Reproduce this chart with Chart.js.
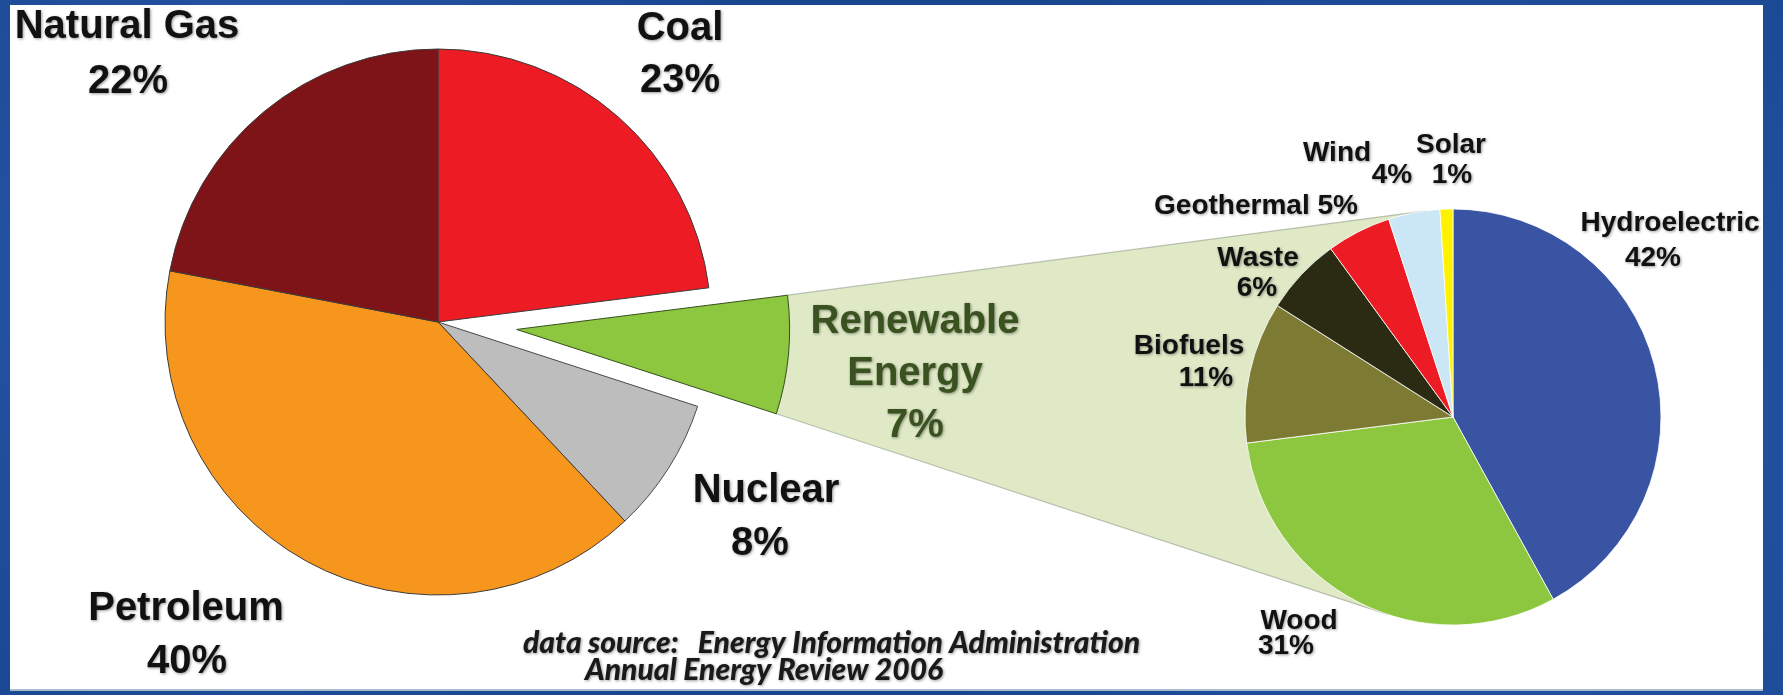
<!DOCTYPE html>
<html>
<head>
<meta charset="utf-8">
<title>Energy consumption by source</title>
<script src="https://cdn.jsdelivr.net/npm/chart.js@4.4.1/dist/chart.umd.min.js"></script>
<style>
    html, body { margin: 0; padding: 0; }
    body {
        width: 1783px;
        height: 695px;
        overflow: hidden;
        position: relative;
        background: radial-gradient(circle at 15% 40%, #2a5cae 0, rgba(42, 92, 174, 0) 35%),
                    radial-gradient(circle at 85% 60%, #2657a8 0, rgba(38, 87, 168, 0) 40%),
                    #18468f;
    }
    #panel {
        position: absolute;
        left: 10px;
        top: 5px;
        width: 1753px;
        height: 684px;
        background: #fff;
        border-bottom: 2px solid #a9bbd2;
    }
    canvas { position: absolute; left: 0; top: 0; }
</style>
</head>
<body>
<div id="panel"></div>
<canvas id="mainPie" width="1783" height="695"></canvas>
<canvas id="renewPie" width="1783" height="695"></canvas>
<script>
// main pie: share of total energy consumption (%)
var mainLabels = ['Coal', ['Renewable', 'Energy'], 'Nuclear', 'Petroleum', 'Natural Gas'];
var mainValues = [23, 7, 8, 40, 22];
var mainColors = ['#ed1c24', '#8dc63f', '#bdbdbd', '#f7961d', '#7e1318'];

// breakdown of the renewable slice (%)
var renewLabels = ['Hydroelectric', 'Wood', 'Biofuels', 'Waste', 'Geothermal', 'Wind', 'Solar'];
var renewValues = [42, 31, 11, 6, 5, 4, 1];
var renewColors = ['#3a54a4', '#8dc63f', '#7d7b33', '#2b2b13', '#ed1c24', '#cbe6f5', '#fff200'];

var sourceLines = ['data source:   Energy Information Administration', 'Annual Energy Review 2006'];

// where the text lines go (x centre, baseline) - one entry per line
var mainTextPos = [
    [[680, 40], [680, 92]],
    [[915, 333], [915, 385], [915, 437]],
    [[766, 502], [760, 555]],
    [[186, 620], [187, 673]],
    [[127, 38], [128, 93]]
];
var renewTextPos = [
    [[1670, 231], [1653, 266]],
    [[1299, 629], [1286, 654]],
    [[1189, 354], [1206, 386]],
    [[1258, 266], [1257, 296]],
    [[1256, 214]],
    [[1337, 161], [1392, 183]],
    [[1451, 153], [1452, 183]]
];

var explodeIndex = 1;      // Renewable Energy
var explodeDistance = 79;
var fanColor = '#dfe9c6';

var mainCanvas = document.getElementById('mainPie');
var renewCanvas = document.getElementById('renewPie');
var renewChart;

function drawLines(ctx, lines, pos) {
    if (pos.length === 1) {
        lines = [lines.join(' ')];
    }
    lines.forEach(function (t, j) {
        ctx.fillText(t, pos[j][0], pos[j][1]);
    });
}

function setShadow(ctx) {
    ctx.shadowColor = 'rgba(0, 0, 0, 0.4)';
    ctx.shadowBlur = 3;
    ctx.shadowOffsetX = 1;
    ctx.shadowOffsetY = 1;
}

// moves the renewable slice out of the pie
var explodePlugin = {
    id: 'explodeSlice',
    afterDatasetsUpdate: function (chart) {
        var arc = chart.getDatasetMeta(0).data[explodeIndex];
        var mid = (arc.startAngle + arc.endAngle) / 2;
        arc.x += Math.cos(mid) * explodeDistance;
        arc.y += Math.sin(mid) * explodeDistance;
    }
};

// light green band from the renewable slice to the breakdown pie
var fanPlugin = {
    id: 'zoomFan',
    beforeDatasetsDraw: function (chart) {
        var ctx = chart.ctx;
        var slice = chart.getDatasetMeta(0).data[explodeIndex];
        var target = renewChart.getDatasetMeta(0).data[0];
        var cx = target.x, cy = target.y, R = target.outerRadius;
        var r = slice.outerRadius;
        var p1 = { x: slice.x + r * Math.cos(slice.startAngle), y: slice.y + r * Math.sin(slice.startAngle) };
        var p2 = { x: slice.x + r * Math.cos(slice.endAngle), y: slice.y + r * Math.sin(slice.endAngle) };

        function tangent(p, side) {
            var dx = cx - p.x, dy = cy - p.y;
            var d = Math.hypot(dx, dy);
            var a = Math.atan2(dy, dx) + side * Math.asin(R / d);
            var len = Math.sqrt(d * d - R * R);
            return { x: p.x + len * Math.cos(a), y: p.y + len * Math.sin(a) };
        }
        var t1 = tangent(p1, -1);
        var t2 = tangent(p2, 1);

        ctx.save();
        ctx.beginPath();
        ctx.moveTo(p1.x, p1.y);
        ctx.lineTo(t1.x, t1.y);
        ctx.lineTo(cx, cy);
        ctx.lineTo(t2.x, t2.y);
        ctx.lineTo(p2.x, p2.y);
        ctx.arc(slice.x, slice.y, r, slice.endAngle, slice.startAngle, true);
        ctx.closePath();
        ctx.fillStyle = fanColor;
        ctx.fill();

        ctx.beginPath();
        ctx.moveTo(p1.x, p1.y);
        ctx.lineTo(t1.x, t1.y);
        ctx.moveTo(p2.x, p2.y);
        ctx.lineTo(t2.x, t2.y);
        ctx.strokeStyle = 'rgba(120, 130, 110, 0.45)';
        ctx.lineWidth = 1.2;
        ctx.stroke();
        ctx.restore();
    }
};

var mainLabelPlugin = {
    id: 'mainLabels',
    afterDatasetsDraw: function (chart) {
        var ctx = chart.ctx;
        var ds = chart.data.datasets[0];
        ctx.save();
        ctx.font = 'bold 40px "Liberation Sans", Arial, sans-serif';
        ctx.textAlign = 'center';
        setShadow(ctx);
        chart.data.labels.forEach(function (label, i) {
            ctx.fillStyle = i === explodeIndex ? '#3a5220' : '#111';
            drawLines(ctx, [].concat(label, ds.data[i] + '%'), mainTextPos[i]);
        });

        // data source note
        ctx.font = 'italic 900 30px Lato, "Liberation Sans", sans-serif';
        ctx.textAlign = 'left';
        ctx.fillStyle = '#1a1a1a';
        ctx.fillText(sourceLines[0], 523, 653);
        ctx.fillText(sourceLines[1], 585, 680);
        ctx.restore();
    }
};

var renewLabelPlugin = {
    id: 'renewLabels',
    afterDatasetsDraw: function (chart) {
        var ctx = chart.ctx;
        var ds = chart.data.datasets[0];
        ctx.save();
        ctx.font = 'bold 28px "Liberation Sans", Arial, sans-serif';
        ctx.textAlign = 'center';
        ctx.fillStyle = '#111';
        setShadow(ctx);
        chart.data.labels.forEach(function (label, i) {
            drawLines(ctx, [label, ds.data[i] + '%'], renewTextPos[i]);
        });
        ctx.restore();
    }
};

// breakdown pie goes on the top canvas, created first so the fan can use it
renewChart = new Chart(renewCanvas.getContext('2d'), {
    type: 'pie',
    data: {
        labels: renewLabels,
        datasets: [{
            data: renewValues,
            backgroundColor: renewColors,
            borderColor: 'rgba(255, 255, 255, 0.8)',
            borderWidth: 1
        }]
    },
    options: {
        responsive: false,
        animation: false,
        events: [],
        radius: 208,
        layout: { padding: { left: 1153, right: 30, top: 167, bottom: 28 } },
        plugins: { legend: { display: false }, tooltip: { enabled: false } }
    },
    plugins: [renewLabelPlugin]
});

var mainChart = new Chart(mainCanvas.getContext('2d'), {
    type: 'pie',
    data: {
        labels: mainLabels,
        datasets: [{
            data: mainValues,
            backgroundColor: mainColors,
            borderColor: ['#3b3b3b', '#34501a', '#4a4a4a', '#3b3b3b', '#3b3b3b'],
            borderWidth: 1
        }]
    },
    options: {
        responsive: false,
        animation: false,
        events: [],
        radius: 273,
        layout: { padding: { left: 0, right: 907, top: 0, bottom: 51 } },
        plugins: { legend: { display: false }, tooltip: { enabled: false } }
    },
    plugins: [explodePlugin, fanPlugin, mainLabelPlugin]
});
</script>
</body>
</html>
